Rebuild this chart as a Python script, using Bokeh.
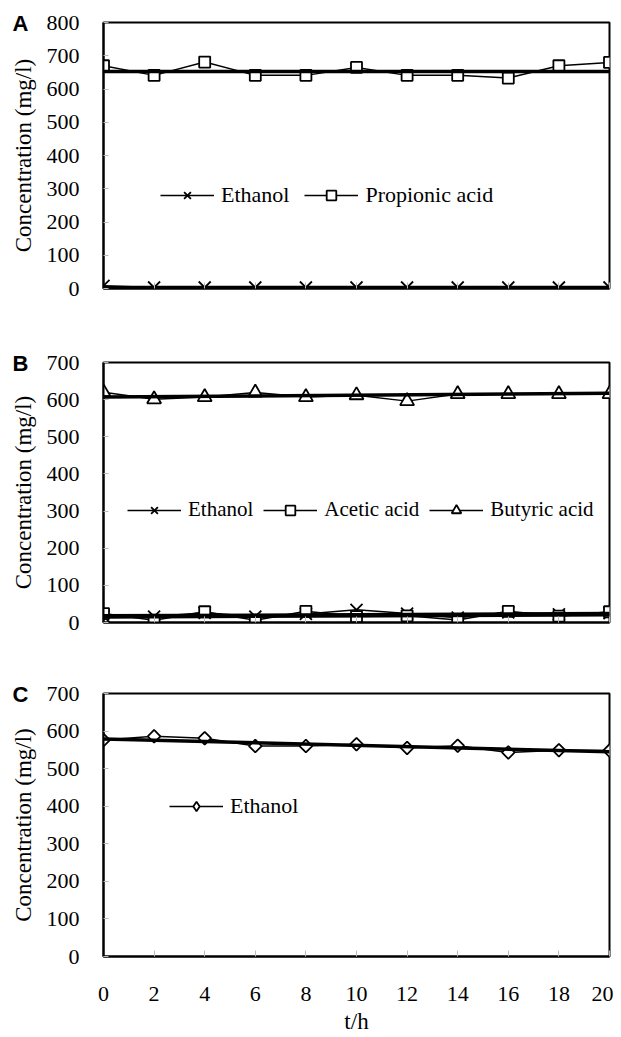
from bokeh.plotting import figure
from bokeh.models import Range1d, Legend, LegendItem, FixedTicker, SingleIntervalTicker
from bokeh.layouts import column
from bokeh.embed import file_html
from bokeh.resources import INLINE

# ---------------- data ----------------
t = [0, 2, 4, 6, 8, 10, 12, 14, 16, 18, 20]

# Panel A
a_ethanol = [8, 3, 3, 3, 3, 3, 3, 3, 3, 3, 3]
a_propionic = [670, 641, 681, 641, 641, 665, 641, 641, 633, 670, 680]
a_trend_t = [0, 20]
a_trend_propionic = [653, 653]
a_trend_ethanol = [3, 3]

# Panel B
b_ethanol = [17, 16, 26, 16, 23, 34, 24, 13, 27, 22, 25]
b_acetic = [24, 6, 29, 6, 30, 16, 18, 7, 30, 17, 29]
b_butyric = [620, 601, 607, 619, 607, 612, 596, 615, 615, 615, 615]
b_trend_t = [0, 20]
b_trend_butyric = [607, 617]
b_trend_ethanol = [18, 24]
b_trend_acetic = [15, 21]

# Panel C
c_ethanol = [576, 586, 581, 560, 560, 565, 555, 561, 543, 549, 548]
c_trend_t = [0, 20]
c_trend_ethanol = [579, 545]

SERIF = "serif"
SANS = "Liberation Sans"


def make_fig(height, top, bottom, ymax, show_x, letter):
    p = figure(width=613, height=height, output_backend="svg", toolbar_location=None,
               x_range=Range1d(0, 20), y_range=Range1d(0, ymax),
               min_border_left=103, min_border_right=4,
               min_border_top=top, min_border_bottom=bottom)
    p.outline_line_color = "black"
    p.outline_line_width = 2
    p.xgrid.visible = False
    p.ygrid.visible = False
    p.background_fill_color = "white"
    p.border_fill_color = "white"

    # panel letter
    p.title.text = letter
    p.title.align = "left"
    p.title.offset = -91
    p.title.standoff = -27
    p.title.text_font = SANS
    p.title.text_font_style = "bold"
    p.title.text_font_size = "22px"
    p.title.text_line_height = 0.8
    p.title.text_color = "black"

    ya = p.yaxis[0]
    ya.ticker = SingleIntervalTicker(interval=100)
    ya.axis_line_color = "black"
    ya.axis_line_width = 2
    ya.major_tick_in = 5
    ya.major_tick_out = 0
    ya.major_tick_line_color = "#bbbbbb"
    ya.minor_tick_line_color = None
    ya.major_label_text_font = SERIF
    ya.major_label_text_font_size = "22px"
    ya.major_label_text_color = "black"
    ya.major_label_standoff = 20
    ya.axis_label = "Concentration (mg/l)"
    ya.axis_label_text_font = SERIF
    ya.axis_label_text_font_size = "23px"
    ya.axis_label_text_font_style = "normal"
    ya.axis_label_text_color = "black"
    ya.axis_label_standoff = 8

    xa = p.xaxis[0]
    xa.ticker = FixedTicker(ticks=t)
    xa.axis_line_color = "black"
    xa.axis_line_width = 2
    xa.major_tick_in = 6
    xa.major_tick_out = 0
    xa.major_tick_line_color = "#bbbbbb"
    xa.minor_tick_line_color = None
    if show_x:
        xa.major_label_text_font = SERIF
        xa.major_label_text_font_size = "22px"
        xa.major_label_text_color = "black"
        xa.major_label_standoff = 30
        xa.axis_label = "t/h"
        xa.axis_label_text_font = SERIF
        xa.axis_label_text_font_size = "23px"
        xa.axis_label_text_font_style = "normal"
        xa.axis_label_text_color = "black"
        xa.axis_label_standoff = 5
    else:
        xa.major_label_text_font_size = "1px"
        xa.major_label_text_color = None
        xa.major_label_standoff = 0
    return p


def series(p, y, marker, size, angle=0.0):
    ln = p.line(t, y, line_color="black", line_width=1.5)
    sc = p.scatter(t, y, marker=marker, size=size, angle=angle, line_color="black",
                   fill_color="white", line_width=1.8)
    return [ln, sc]


def legend(p, items, loc, spacing, fsize):
    lg = Legend(items=items, orientation="horizontal", location=loc,
                border_line_color=None, background_fill_alpha=0,
                glyph_width=54, glyph_height=24, label_standoff=7, spacing=spacing,
                padding=0, margin=0, label_text_font=SERIF, label_text_font_size=fsize,
                label_text_color="black")
    p.add_layout(lg)


# ---------------- Panel A ----------------
pA = make_fig(318, 22, 30, 800, False, "A")
rA1 = series(pA, a_ethanol, "x", 17)
rA2 = series(pA, a_propionic, "square", 11)
pA.line(a_trend_t, a_trend_ethanol, line_color="black", line_width=3.5)
pA.line(a_trend_t, a_trend_propionic, line_color="black", line_width=3.5)
legend(pA, [LegendItem(label="Ethanol", renderers=rA1),
            LegendItem(label="Propionic acid", renderers=rA2)], (57, 80), 15, "22px")

# ---------------- Panel B ----------------
pB = make_fig(334, 44, 30, 700, False, "B")
rB1 = series(pB, b_ethanol, "x", 17)
rB2 = series(pB, b_acetic, "square", 11)
rB3 = series(pB, b_butyric, "triangle", 14)
pB.line(b_trend_t, b_trend_ethanol, line_color="black", line_width=3.5)
pB.line(b_trend_t, b_trend_acetic, line_color="black", line_width=3.5)
pB.line(b_trend_t, b_trend_butyric, line_color="black", line_width=3.5)
legend(pB, [LegendItem(label="Ethanol", renderers=rB1),
            LegendItem(label="Acetic acid", renderers=rB2),
            LegendItem(label="Butyric acid", renderers=rB3)], (24, 100), 10, "21px")

# ---------------- Panel C ----------------
pC = make_fig(384, 41, 75, 700, True, "C")
rC1 = series(pC, c_ethanol, "square", 9, angle=0.785398)
rC1_leg = pC.scatter(t, c_ethanol, marker="diamond", size=0, line_color="black",
                     fill_color="white", line_width=1.8)
pC.line(c_trend_t, c_trend_ethanol, line_color="black", line_width=3.5)
legend(pC, [LegendItem(label="Ethanol", renderers=[rC1[0], rC1_leg])], (66, 137), 10, "22px")

layout = column(pA, pB, pC, spacing=0)
open("out.html", "w").write(file_html(layout, INLINE))
